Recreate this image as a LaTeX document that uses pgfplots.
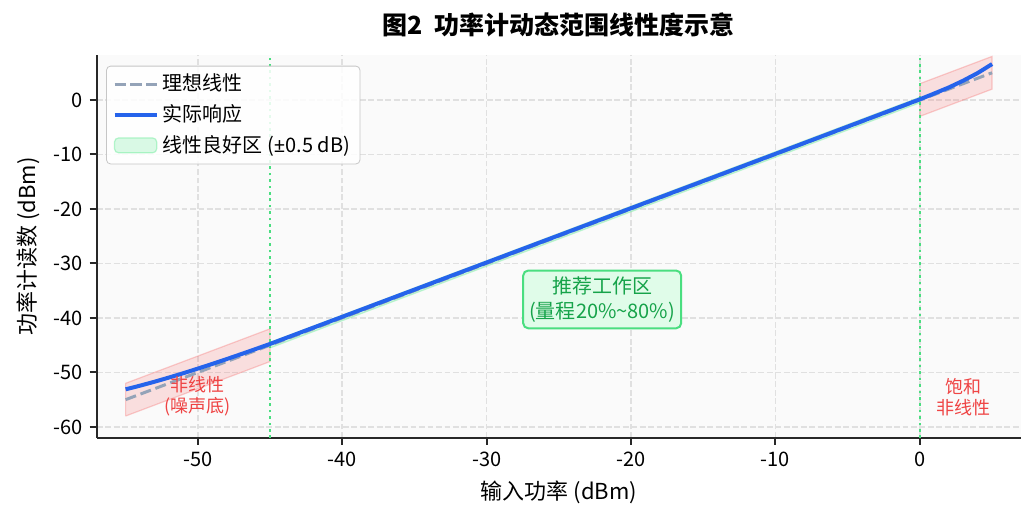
\documentclass[border=0pt]{standalone}
\usepackage{fontspec}
\setmainfont{Noto Sans CJK SC}
\newfontfamily\latinfont{Noto Sans}
\usepackage{pgfplots}
\pgfplotsset{compat=1.18}

\definecolor{idealc}{RGB}{148,163,184}
\definecolor{actc}{RGB}{37,99,235}
\definecolor{goodc}{RGB}{134,239,172}
\definecolor{vlinec}{RGB}{74,222,128}
\definecolor{redc}{RGB}{239,68,68}
\definecolor{bandr}{RGB}{248,113,113}
\definecolor{boxtxt}{RGB}{22,163,74}
\definecolor{boxfill}{RGB}{224,252,233}
\definecolor{spinec}{RGB}{40,40,40}
\definecolor{gridc}{RGB}{224,224,224}
\definecolor{bgc}{RGB}{250,250,250}

\begin{document}
\begin{tikzpicture}
\useasboundingbox (-48.35pt,-42.65pt) rectangle (469.5pt,218.9pt);
\begin{axis}[
    scale only axis,
    width=462pt, height=191.4pt,
    xmin=-57, xmax=7,
    ymin=-62.02, ymax=8.26,
    axis x line*=bottom, axis y line*=left,
    axis line style={-, spinec, line width=1pt},
    axis background/.style={fill=bgc},
    xtick={-50,-40,...,0},
    ytick={-60,-50,...,0},
    tick align=outside,
    major tick length=3.5pt,
    tick style={spinec, line width=1pt},
    grid=major,
    grid style={gridc, line width=0.8pt, dash pattern=on 2.96pt off 1.28pt},
    tick label style={font=\fontsize{10}{12}\selectfont},
    /pgf/number format/assume math mode=true,
    xlabel={输入功率 (dBm)},
    ylabel={功率计读数 (dBm)},
    label style={font=\fontsize{11}{13}\selectfont},
    title={\textbf{图2\ \ 功率计动态范围线性度示意}},
    title style={font=\fontsize{12.5}{15}\selectfont, at={(0.5,1)}, anchor=center, yshift=9pt},
    legend style={
        at={(0.0102,0.972)}, anchor=north west,
        draw=gray!45, rounded corners=2pt, fill=white, fill opacity=0.85, text opacity=1,
        font=\fontsize{10}{12}\selectfont,
        row sep=1.5pt, inner xsep=3pt, inner ysep=2pt,
    },
    legend cell align=left,
    legend image code/.code={
        \draw[#1] plot coordinates {(0cm,0cm) (0.74cm,0cm)};
    },
]

% nonlinear regions, +-3 dB about the ideal line
\addplot[forget plot, fill=bandr, fill opacity=0.2, draw=bandr, draw opacity=0.35, line width=0.6pt]
    coordinates {(-55,-58) (-45,-48) (-45,-42) (-55,-52) (-55,-58)};
\addplot[forget plot, fill=bandr, fill opacity=0.2, draw=bandr, draw opacity=0.35, line width=0.6pt]
    coordinates {(0,-3) (5,2) (5,8) (0,3) (0,-3)};

% linear region, +-0.5 dB
\addplot[forget plot, fill=goodc, fill opacity=0.3, draw=goodc, draw opacity=0.5, line width=0.6pt]
    coordinates {(-45,-45.5) (0,-0.5) (0,0.5) (-45,-44.5) (-45,-45.5)};

% boundaries
\addplot[forget plot, vlinec, line width=1.3pt, dash pattern=on 1.3pt off 1.9pt]
    coordinates {(-45,-62.02) (-45,8.26)};
\addplot[forget plot, vlinec, line width=1.3pt, dash pattern=on 1.3pt off 1.9pt]
    coordinates {(0,-62.02) (0,8.26)};

\addplot[idealc, line width=1.5pt, dash pattern=on 5.55pt off 2.4pt]
    coordinates {(-55,-55) (5,5)};
\addlegendentry{理想线性}

\addplot[actc, line width=2pt, line join=round]
    coordinates {
    (-55,-53.10) (-54,-52.43) (-53,-51.71) (-52,-50.94) (-51,-50.14)
    (-50,-49.30) (-49,-48.44) (-48,-47.55) (-47,-46.64) (-46,-45.71)
    (-45,-44.77) (-40,-39.79) (-30,-29.82) (-20,-19.85) (-10,-9.88)
    (0,0.13) (1,1.20) (2,2.30) (3,3.55) (4,4.95) (5,6.60)
    };
\addlegendentry{实际响应}

\addlegendimage{legend image code/.code={
    \draw[fill=goodc, fill opacity=0.3, draw=goodc, draw opacity=0.6, line width=0.6pt]
        (0cm,-0.12cm) rectangle (0.74cm,0.14cm);}}
\addlegendentry{线性良好区 ({\latinfont ±}0.5 dB)}

\node[text=redc, align=center, font=\fontsize{9}{10.5}\selectfont]
    at (axis cs:-50,-54.4) {非线性\\(噪声底)};
\node[text=redc, align=center, font=\fontsize{9}{10.5}\selectfont]
    at (axis cs:3,-54.5) {饱和\\非线性};
\node[text=boxtxt, align=center, font=\fontsize{10}{12.5}\selectfont,
      fill=boxfill, draw=vlinec, line width=1pt, rounded corners=2.5pt, inner sep=3pt]
    at (axis cs:-22,-36.6) {推荐工作区\\(量程20\%\textasciitilde80\%)};
\end{axis}
\end{tikzpicture}
\end{document}
